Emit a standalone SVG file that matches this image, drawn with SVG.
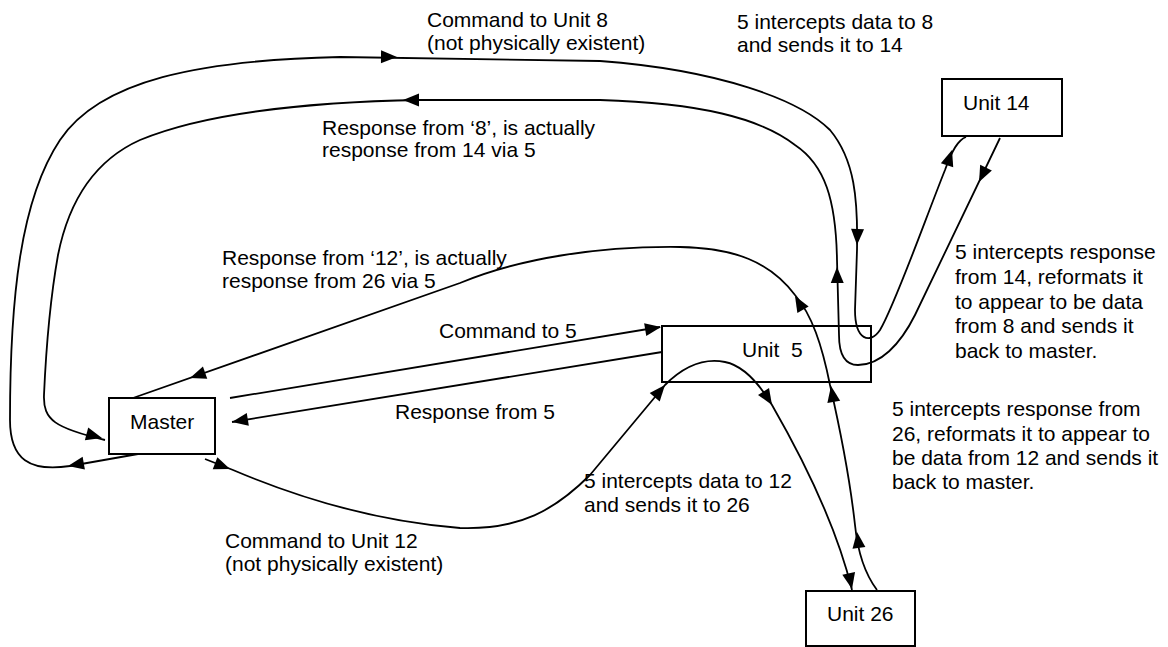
<svg xmlns="http://www.w3.org/2000/svg" xmlns:xlink="http://www.w3.org/1999/xlink" width="1168" height="647" viewBox="0 0 1168 647">
  <style>
    .box { fill: none; stroke: #000; stroke-width: 2; }
    .con { fill: none; stroke: #000; stroke-width: 1.8; }
    .lbl { font-family: "Liberation Sans", Arial, sans-serif; font-size: 21px; fill: #000; }
  </style>
  <defs>
    <path id="ah" d="M0,0 L-16,-6.5 L-16,6.5 Z" fill="#000"/>
  </defs>
  <rect width="1168" height="647" fill="#fff"/>

  <g id="connectors">
    <!-- Command to Unit 8 (outer loop) -->
    <path class="con" d="M138,454 L70,466 C30,472 10,460 10,420 C10,300 20,200 60,140 C100,80 200,60 340,57 L600,61 C720,70 800,100 830,130 C855,160 858,200 857,250 L855,310 C855,340 870,345 880,330 C895,305 925,220 945,170 C952,150 958,140 966,137"/>
    <use xlink:href="#ah" transform="translate(68,466) rotate(170)"/>
    <use xlink:href="#ah" transform="translate(397,57) rotate(0.5)"/>
    <use xlink:href="#ah" transform="translate(857,245) rotate(92)"/>
    <use xlink:href="#ah" transform="translate(952,150) rotate(-72)"/>

    <!-- Response from '8' (inner loop) -->
    <path class="con" d="M1000,138 L915,315 C900,345 880,365 858,365 C845,365 839,355 839,335 L837,260 C836,200 825,165 795,145 C760,118 700,103 600,100 L420,100 C300,102 200,115 140,140 C100,158 70,195 58,255 C50,300 46,350 44,395 C43,420 55,428 105,440"/>
    <use xlink:href="#ah" transform="translate(979,182) rotate(116)"/>
    <use xlink:href="#ah" transform="translate(837,267) rotate(-91)"/>
    <use xlink:href="#ah" transform="translate(403,100) rotate(180)"/>
    <use xlink:href="#ah" transform="translate(102,438) rotate(15)"/>

    <!-- Response from '12' -->
    <path class="con" d="M877,590 C862,570 857,545 855,525 C850,480 838,420 830,385 C822,345 812,315 795,295 C770,262 735,248 680,247 C600,246 520,258 460,283 L133,398"/>
    <use xlink:href="#ah" transform="translate(857,532) rotate(-97)"/>
    <use xlink:href="#ah" transform="translate(831,386) rotate(-100)"/>
    <use xlink:href="#ah" transform="translate(795,296) rotate(-120)"/>
    <use xlink:href="#ah" transform="translate(190,378) rotate(160.6)"/>

    <!-- Command to Unit 12 -->
    <path class="con" d="M205,459 L233,470 C280,490 360,520 460,528 C520,530 555,510 590,475 L665,385 C685,365 705,358 725,362 C745,366 760,385 772,405 C795,445 835,520 852,590"/>
    <use xlink:href="#ah" transform="translate(230,469) rotate(21)"/>
    <use xlink:href="#ah" transform="translate(665,385) rotate(-50)"/>
    <use xlink:href="#ah" transform="translate(772,405) rotate(58)"/>
    <use xlink:href="#ah" transform="translate(852,589) rotate(78)"/>

    <!-- Command to 5 / Response from 5 -->
    <path class="con" d="M230,398 L660,327"/>
    <use xlink:href="#ah" transform="translate(661,327) rotate(-9.4)"/>
    <path class="con" d="M662,352 L232,422"/>
    <use xlink:href="#ah" transform="translate(232,422) rotate(170.8)"/>
  </g>

  <g id="master">
    <rect class="box" x="109" y="398" width="106" height="56"/>
    <text class="lbl" x="130" y="429">Master</text>
  </g>
  <g id="unit5">
    <rect class="box" x="662" y="326" width="209" height="56"/>
    <text class="lbl" x="742" y="357" xml:space="preserve">Unit  5</text>
  </g>
  <g id="unit14">
    <rect class="box" x="942" y="79" width="120" height="57"/>
    <text class="lbl" x="963" y="110">Unit 14</text>
  </g>
  <g id="unit26">
    <rect class="box" x="806" y="591" width="109" height="55"/>
    <text class="lbl" x="827" y="621">Unit 26</text>
  </g>

  <g id="labels">
    <text class="lbl" x="427" y="27">Command to Unit 8</text>
    <text class="lbl" x="427" y="50">(not physically existent)</text>
    <text class="lbl" x="737" y="29">5 intercepts data to 8</text>
    <text class="lbl" x="737" y="52">and sends it to 14</text>
    <text class="lbl" x="322" y="135">Response from ‘8’, is actually</text>
    <text class="lbl" x="322" y="157">response from 14 via 5</text>
    <text class="lbl" x="222" y="265">Response from ‘12’, is actually</text>
    <text class="lbl" x="222" y="288">response from 26 via 5</text>
    <text class="lbl" x="439" y="338">Command to 5</text>
    <text class="lbl" x="395" y="419">Response from 5</text>
    <text class="lbl" x="955" y="259">5 intercepts response</text>
    <text class="lbl" x="955" y="284">from 14, reformats it</text>
    <text class="lbl" x="955" y="309">to appear to be data</text>
    <text class="lbl" x="955" y="333">from 8 and sends it</text>
    <text class="lbl" x="955" y="358">back to master.</text>
    <text class="lbl" x="892" y="416">5 intercepts response from</text>
    <text class="lbl" x="892" y="441">26, reformats it to appear to</text>
    <text class="lbl" x="892" y="465">be data from 12 and sends it</text>
    <text class="lbl" x="892" y="489">back to master.</text>
    <text class="lbl" x="584" y="488">5 intercepts data to 12</text>
    <text class="lbl" x="584" y="512">and sends it to 26</text>
    <text class="lbl" x="225" y="548">Command to Unit 12</text>
    <text class="lbl" x="225" y="571">(not physically existent)</text>
  </g>
</svg>
